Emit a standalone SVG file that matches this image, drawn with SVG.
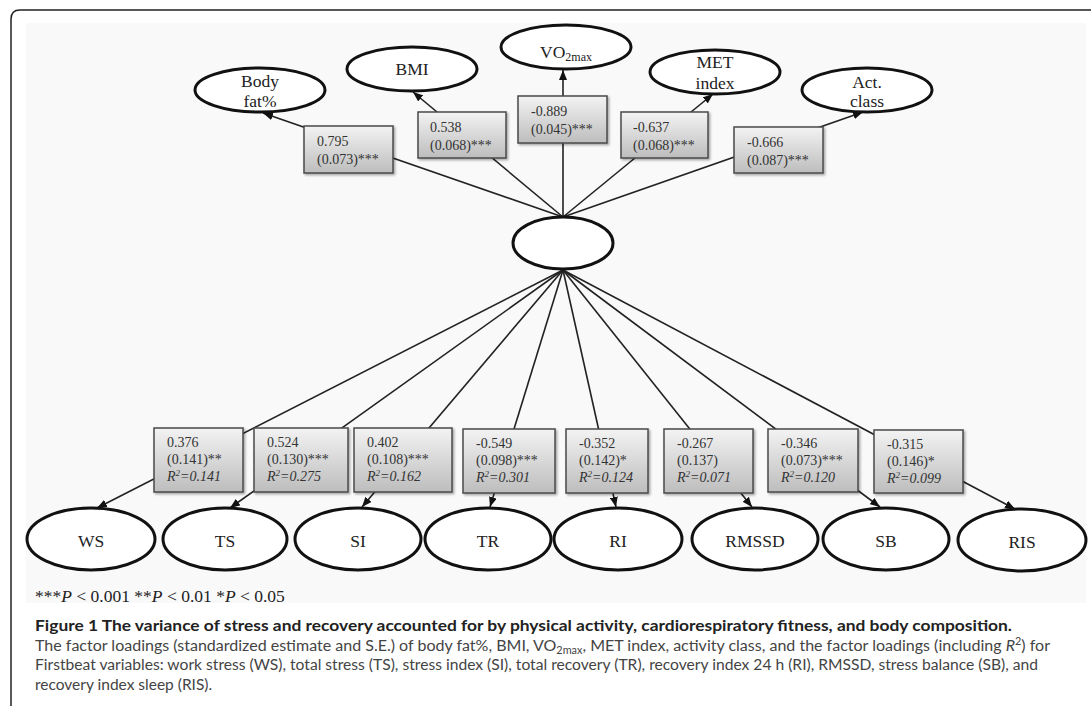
<svg xmlns="http://www.w3.org/2000/svg" width="1091" height="706" viewBox="0 0 1091 706">
  <defs>
    <style>
      .frame { fill: none; stroke: #222; stroke-width: 1.5; }
      .edge { fill: none; stroke: #222; stroke-width: 1.6; }
      .arrow { marker-end: url(#head); }
      .var { fill: #fff; stroke: #111; stroke-width: 3; }
      .box { fill: url(#boxfill); stroke: #4a4a4a; stroke-width: 1.5; filter: url(#shadow); }
      .lbl { font-family: "Liberation Serif", "Times New Roman", serif; font-size: 17.5px; fill: #222; text-anchor: middle; }
      .num { font-family: "Liberation Serif", "Times New Roman", serif; font-size: 14px; fill: #333; }
      .it { font-style: italic; }
      .note { font-family: "Liberation Serif", "Times New Roman", serif; font-size: 17.5px; fill: #222; }
      .cap { font-family: Lato, "Open Sans", "Liberation Sans", sans-serif; font-size: 15.5px; fill: #444; }
      .capb { font-family: Lato, "Open Sans", "Liberation Sans", sans-serif; font-size: 15.5px; font-weight: bold; fill: #222; }
    </style>
    <linearGradient id="boxfill" x1="0" y1="0" x2="0" y2="1">
      <stop offset="0" stop-color="#f3f3f3"/>
      <stop offset="1" stop-color="#bdbdbd"/>
    </linearGradient>
    <filter id="shadow" x="-10%" y="-10%" width="130%" height="130%">
      <feDropShadow dx="1.5" dy="1.5" stdDeviation="1.2" flood-color="#000" flood-opacity="0.35"/>
    </filter>
    <marker id="head" viewBox="0 0 10 8" refX="10" refY="4" markerWidth="10" markerHeight="8" markerUnits="userSpaceOnUse" orient="auto">
      <path d="M0,0 L10,4 L0,8 z" fill="#111"/>
    </marker>
  </defs>

  <!-- page frame and figure panel -->
  <rect x="0" y="0" width="1091" height="706" fill="#fff"/>
  <path class="frame" d="M11,706 L11,19 Q11,10 20,10 L1091,10"/>
  <rect x="26" y="23" width="1060" height="580" fill="#f9f9f9"/>

  <!-- connectors: latent factor to indicators -->
  <g id="connectors">
    <line class="edge arrow" x1="563" y1="217" x2="263" y2="113"/>
    <line class="edge arrow" x1="563" y1="217" x2="413" y2="92"/>
    <line class="edge arrow" x1="563" y1="217" x2="563" y2="70"/>
    <line class="edge arrow" x1="563" y1="217" x2="713" y2="94"/>
    <line class="edge arrow" x1="563" y1="217" x2="863" y2="112"/>
    <line class="edge arrow" x1="563" y1="270" x2="97" y2="508"/>
    <line class="edge arrow" x1="563" y1="270" x2="230" y2="508"/>
    <line class="edge arrow" x1="563" y1="270" x2="362" y2="507"/>
    <line class="edge arrow" x1="563" y1="270" x2="490" y2="507"/>
    <line class="edge arrow" x1="563" y1="270" x2="616" y2="507"/>
    <line class="edge arrow" x1="563" y1="270" x2="752" y2="507"/>
    <line class="edge arrow" x1="563" y1="270" x2="880" y2="507"/>
    <line class="edge arrow" x1="563" y1="270" x2="1015" y2="509"/>
  </g>

  <!-- loading boxes, upper indicators -->
  <g id="load-bodyfat">
    <rect class="box" x="304" y="126" width="89" height="47"/>
    <text class="num" x="317" y="146">0.795</text>
    <text class="num" x="317" y="164">(0.073)***</text>
  </g>
  <g id="load-bmi">
    <rect class="box" x="418" y="112" width="88" height="46"/>
    <text class="num" x="430" y="132">0.538</text>
    <text class="num" x="430" y="150">(0.068)***</text>
  </g>
  <g id="load-vo2max">
    <rect class="box" x="518" y="96" width="89" height="47"/>
    <text class="num" x="531" y="116">-0.889</text>
    <text class="num" x="531" y="134">(0.045)***</text>
  </g>
  <g id="load-met">
    <rect class="box" x="621" y="112" width="87" height="46"/>
    <text class="num" x="633" y="132">-0.637</text>
    <text class="num" x="633" y="150">(0.068)***</text>
  </g>
  <g id="load-actclass">
    <rect class="box" x="734" y="127" width="89" height="46"/>
    <text class="num" x="747" y="147">-0.666</text>
    <text class="num" x="747" y="165">(0.087)***</text>
  </g>

  <!-- loading boxes, lower indicators -->
  <g id="load-ws">
    <rect class="box" x="154" y="428" width="89" height="64"/>
    <text class="num" x="167" y="447">0.376</text>
    <text class="num" x="167" y="464">(0.141)**</text>
    <text class="num it" x="167" y="481">R<tspan dy="-5" font-size="9">2</tspan><tspan dy="5">=0.141</tspan></text>
  </g>
  <g id="load-ts">
    <rect class="box" x="254" y="428" width="94" height="64"/>
    <text class="num" x="267" y="447">0.524</text>
    <text class="num" x="267" y="464">(0.130)***</text>
    <text class="num it" x="267" y="481">R<tspan dy="-5" font-size="9">2</tspan><tspan dy="5">=0.275</tspan></text>
  </g>
  <g id="load-si">
    <rect class="box" x="354" y="428" width="98" height="64"/>
    <text class="num" x="367" y="447">0.402</text>
    <text class="num" x="367" y="464">(0.108)***</text>
    <text class="num it" x="367" y="481">R<tspan dy="-5" font-size="9">2</tspan><tspan dy="5">=0.162</tspan></text>
  </g>
  <g id="load-tr">
    <rect class="box" x="463" y="429" width="92" height="64"/>
    <text class="num" x="476" y="448">-0.549</text>
    <text class="num" x="476" y="465">(0.098)***</text>
    <text class="num it" x="476" y="482">R<tspan dy="-5" font-size="9">2</tspan><tspan dy="5">=0.301</tspan></text>
  </g>
  <g id="load-ri">
    <rect class="box" x="566" y="429" width="82" height="64"/>
    <text class="num" x="579" y="448">-0.352</text>
    <text class="num" x="579" y="465">(0.142)*</text>
    <text class="num it" x="579" y="482">R<tspan dy="-5" font-size="9">2</tspan><tspan dy="5">=0.124</tspan></text>
  </g>
  <g id="load-rmssd">
    <rect class="box" x="664" y="429" width="89" height="64"/>
    <text class="num" x="677" y="448">-0.267</text>
    <text class="num" x="677" y="465">(0.137)</text>
    <text class="num it" x="677" y="482">R<tspan dy="-5" font-size="9">2</tspan><tspan dy="5">=0.071</tspan></text>
  </g>
  <g id="load-sb">
    <rect class="box" x="768" y="429" width="90" height="63"/>
    <text class="num" x="781" y="448">-0.346</text>
    <text class="num" x="781" y="465">(0.073)***</text>
    <text class="num it" x="781" y="482">R<tspan dy="-5" font-size="9">2</tspan><tspan dy="5">=0.120</tspan></text>
  </g>
  <g id="load-ris">
    <rect class="box" x="874" y="430" width="89" height="63"/>
    <text class="num" x="887" y="449">-0.315</text>
    <text class="num" x="887" y="466">(0.146)*</text>
    <text class="num it" x="887" y="483">R<tspan dy="-5" font-size="9">2</tspan><tspan dy="5">=0.099</tspan></text>
  </g>

  <!-- latent factor -->
  <g id="factor">
    <ellipse class="var" cx="563" cy="243" rx="50" ry="26"/>
  </g>

  <!-- upper indicators -->
  <g id="bodyfat">
    <ellipse class="var" cx="260" cy="90" rx="65" ry="22"/>
    <text class="lbl" x="260" y="87">Body</text>
    <text class="lbl" x="260" y="107">fat%</text>
  </g>
  <g id="bmi">
    <ellipse class="var" cx="412" cy="69" rx="65" ry="22"/>
    <text class="lbl" x="412" y="75">BMI</text>
  </g>
  <g id="vo2max">
    <ellipse class="var" cx="566" cy="47" rx="65" ry="22"/>
    <text class="lbl" x="566" y="58">VO<tspan font-size="12" dy="3">2max</tspan></text>
  </g>
  <g id="met">
    <ellipse class="var" cx="715" cy="72" rx="65" ry="22"/>
    <text class="lbl" x="715" y="68">MET</text>
    <text class="lbl" x="715" y="89">index</text>
  </g>
  <g id="actclass">
    <ellipse class="var" cx="867" cy="90" rx="65" ry="22"/>
    <text class="lbl" x="867" y="88">Act.</text>
    <text class="lbl" x="867" y="107">class</text>
  </g>

  <!-- lower indicators -->
  <g id="ws">
    <ellipse class="var" cx="91" cy="539" rx="64" ry="31"/>
    <text class="lbl" x="91" y="547">WS</text>
  </g>
  <g id="ts">
    <ellipse class="var" cx="225" cy="539" rx="62" ry="31"/>
    <text class="lbl" x="225" y="547">TS</text>
  </g>
  <g id="si">
    <ellipse class="var" cx="358" cy="539" rx="63" ry="31"/>
    <text class="lbl" x="358" y="547">SI</text>
  </g>
  <g id="tr">
    <ellipse class="var" cx="488" cy="539" rx="63" ry="31"/>
    <text class="lbl" x="488" y="547">TR</text>
  </g>
  <g id="ri">
    <ellipse class="var" cx="618" cy="539" rx="64" ry="31"/>
    <text class="lbl" x="618" y="547">RI</text>
  </g>
  <g id="rmssd">
    <ellipse class="var" cx="755" cy="539" rx="63" ry="31"/>
    <text class="lbl" x="755" y="547">RMSSD</text>
  </g>
  <g id="sb">
    <ellipse class="var" cx="886" cy="539" rx="63" ry="31"/>
    <text class="lbl" x="886" y="547">SB</text>
  </g>
  <g id="ris">
    <ellipse class="var" cx="1022" cy="540" rx="64" ry="31"/>
    <text class="lbl" x="1022" y="548">RIS</text>
  </g>

  <!-- significance legend -->
  <text class="note" x="35" y="602">***<tspan class="it">P</tspan> &lt; 0.001 **<tspan class="it">P</tspan> &lt; 0.01 *<tspan class="it">P</tspan> &lt; 0.05</text>

  <!-- caption -->
  <text class="capb" x="35" y="631" textLength="977" lengthAdjust="spacingAndGlyphs">Figure 1 The variance of stress and recovery accounted for by physical activity, cardiorespiratory fitness, and body composition.</text>
  <text class="cap" x="35" y="651" textLength="1015" lengthAdjust="spacingAndGlyphs">The factor loadings (standardized estimate and S.E.) of body fat%, BMI, VO<tspan font-size="10.5" dy="3">2max</tspan><tspan dy="-3">, MET index, activity class, and the factor loadings (including </tspan><tspan font-style="italic">R</tspan><tspan font-size="10.5" dy="-6">2</tspan><tspan dy="6">) for</tspan></text>
  <text class="cap" x="35" y="670" textLength="1003" lengthAdjust="spacingAndGlyphs">Firstbeat variables: work stress (WS), total stress (TS), stress index (SI), total recovery (TR), recovery index 24 h (RI), RMSSD, stress balance (SB), and</text>
  <text class="cap" x="35" y="690">recovery index sleep (RIS).</text>
</svg>
